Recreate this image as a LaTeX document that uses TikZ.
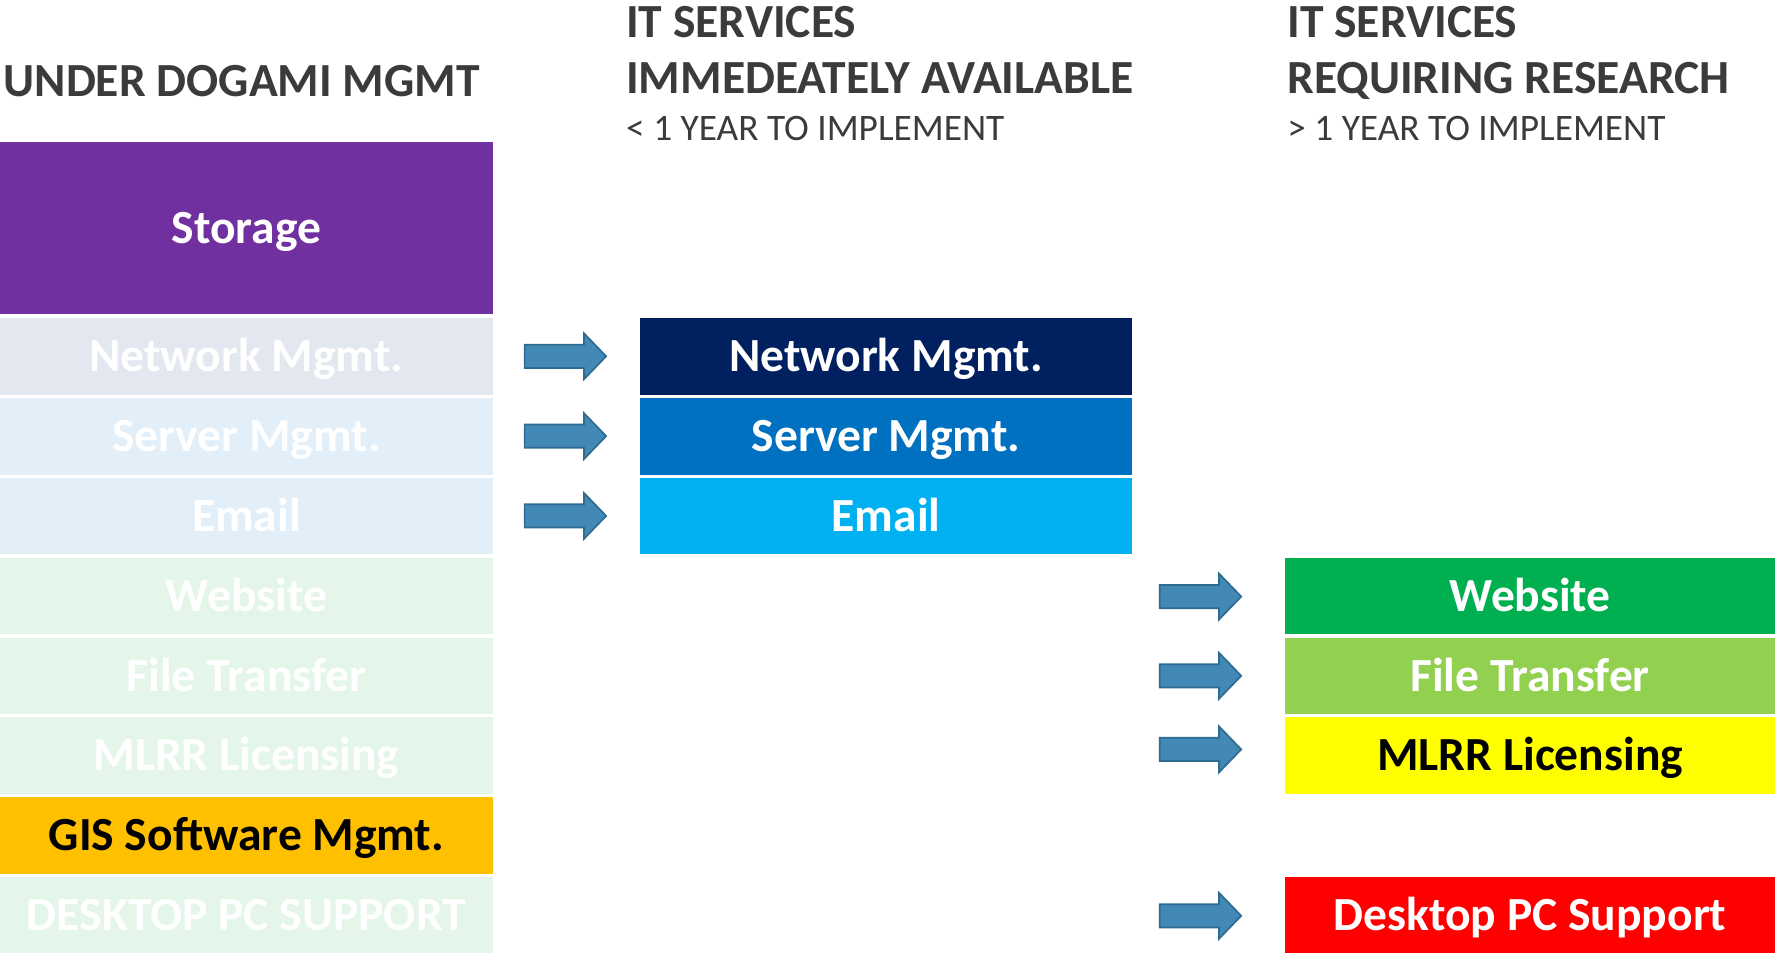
\documentclass[tikz,border=0pt]{standalone}
\usepackage{fontspec}
\setmainfont{Carlito}
\usetikzlibrary{shapes.arrows}
\definecolor{hdrgray}{HTML}{3B3B3B}
\definecolor{storage}{HTML}{7030A0}
\definecolor{fadenet}{HTML}{E3E7EF}
\definecolor{fadeblue}{HTML}{E2EEF8}
\definecolor{fadegreen}{HTML}{E4F5EA}
\definecolor{gis}{HTML}{FFC000}
\definecolor{netblue}{HTML}{002060}
\definecolor{srvblue}{HTML}{0070C0}
\definecolor{mailblue}{HTML}{00B0F0}
\definecolor{webgreen}{HTML}{00B050}
\definecolor{ftgreen}{HTML}{92D050}
\definecolor{mlrr}{HTML}{FFFF00}
\definecolor{pcred}{HTML}{FF0000}
\definecolor{arrowfill}{HTML}{4389B5}
\definecolor{arrowline}{HTML}{2F6B90}
\begin{document}
\begin{tikzpicture}[x=1pt, y=-1pt,
	hdr/.style={anchor=base west, inner sep=0pt, text=hdrgray,
		font=\bfseries\fontsize{42}{42}\selectfont},
	sub/.style={anchor=base west, inner sep=0pt, text=hdrgray,
		font=\fontsize{33}{33}\selectfont},
	svc/.style={anchor=north west, minimum width=435pt,
		minimum height=67.5pt, inner sep=0pt, text=white,
		text height=27pt, text depth=0pt,
		font=\bfseries\fontsize{42}{42}\selectfont},
	blk/.style={single arrow, draw=arrowline, fill=arrowfill,
		line width=1.5pt, inner xsep=0pt, inner ysep=9.5pt,
		minimum height=72pt, single arrow head extend=10pt,
		single arrow tip angle=92}]
\useasboundingbox (0,0) rectangle (1568,843);
\node[hdr] (hl) at (3,85) {UNDER DOGAMI MGMT};
\node[hdr] (hm1) at (553,33) {IT SERVICES};
\node[hdr] (hm2) at (553,83) {IMMEDEATELY AVAILABLE};
\node[sub] (hm3) at (553,124) {< 1 YEAR TO IMPLEMENT};
\node[hdr] (hr1) at (1137,33) {IT SERVICES};
\node[hdr] (hr2) at (1137,83) {REQUIRING RESEARCH};
\node[sub] (hr3) at (1137,124) {> 1 YEAR TO IMPLEMENT};
\node[svc, fill=storage, minimum height=152pt] (storage) at (0,125) {Storage};
\foreach \t/\c/\k [count=\i] in {Network Mgmt./fadenet/white,
	Server Mgmt./fadeblue/white, Email/fadeblue/white,
	Website/fadegreen/white, File Transfer/fadegreen/white,
	MLRR Licensing/fadegreen/white, GIS Software Mgmt./gis/black,
	DESKTOP PC SUPPORT/fadegreen/white}
	\node[svc, fill=\c, text=\k] (l\i) at (0,{281+70.5*(\i-1)}) {\t};
\foreach \t/\c [count=\i] in {Network Mgmt./netblue,
	Server Mgmt./srvblue, Email/mailblue}
	\node[svc, fill=\c] (m\i) at (565,{281+70.5*(\i-1)}) {\t};
\foreach \t/\c/\k/\r in {Website/webgreen/white/4,
	File Transfer/ftgreen/white/5, MLRR Licensing/mlrr/black/6,
	Desktop PC Support/pcred/white/8}
	\node[svc, fill=\c, text=\k, minimum width=433pt]
		(r\r) at (1135,{281+70.5*(\r-1)}) {\t};
\foreach \i in {1,2,3}
	\node[blk] (am\i) at (494.5,{314.75+70.5*(\i-1)}) {};
\foreach \r/\y in {4/527,5/597,6/662,8/809}
	\node[blk] (ar\r) at (1055.5,\y) {};
\end{tikzpicture}
\end{document}
